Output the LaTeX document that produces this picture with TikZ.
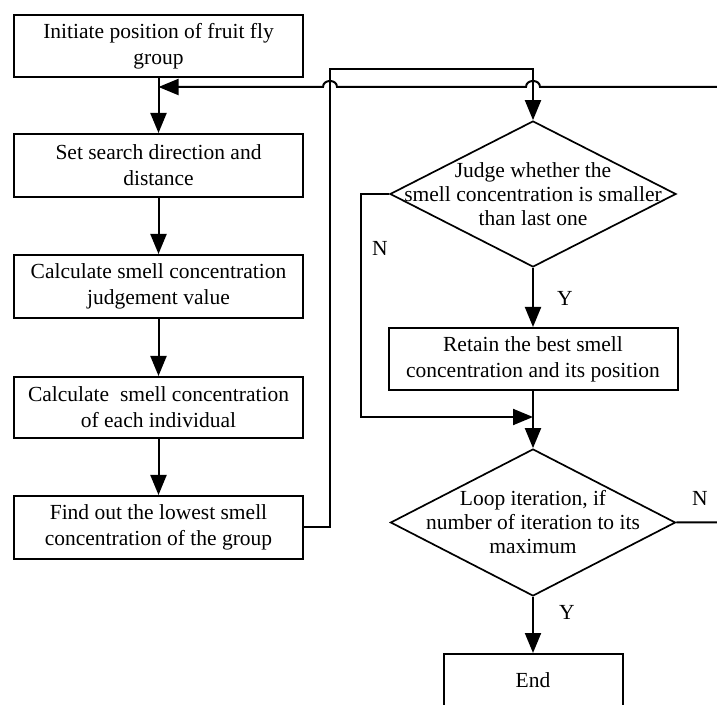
\documentclass[tikz,border=0pt]{standalone}
\usepackage{fontspec}
\setmainfont{Liberation Serif}
\usetikzlibrary{arrows.meta,shapes.geometric}
\begin{document}
\begin{tikzpicture}[x=1pt,y=1pt,
  every node/.style={font=\fontsize{21.5}{26}\selectfont},
  box/.style={draw, line width=2pt, minimum width=289pt, minimum height=62pt, align=center, inner sep=0pt},
  dia/.style={draw, diamond, line width=1.7pt, minimum width=286pt, minimum height=146pt, inner sep=0pt},
  dtext/.style={align=center, inner sep=0pt, font=\fontsize{21.5}{24}\selectfont},
  conn/.style={line width=2pt},
  arr/.style={conn, -{Triangle[length=20pt,width=16pt]}},
  lab/.style={inner sep=0pt}
]
\useasboundingbox (0,0) rectangle (717,704);

% left column
\node[box] (b1) at (158.5,658) {Initiate position of fruit fly\\group};
\node[box, minimum height=63pt] (b2) at (158.5,538.5) {Set search direction and\\distance};
\node[box, minimum height=63pt] (b3) at (158.5,417.5) {Calculate smell concentration\\judgement value};
\node[box, minimum height=61pt] (b4) at (158.5,296.5) {Calculate~ smell concentration\\of each individual};
\node[box, minimum height=63pt] (b5) at (158.5,176.5) {Find out the lowest smell\\concentration of the group};

% right column
\node[dia] (d1) at (533,510) {};
\node[dtext] (t1) at (d1.center) {Judge whether the\\smell concentration is smaller\\than last one};
\node[box] (r) at (533,345) {Retain the best smell\\concentration and its position};
\node[dia, minimum height=147pt, minimum width=285pt] (d2) at (533,181.5) {};
\node[dtext] (t2) at (d2.center) {Loop iteration, if\\number of iteration to its\\maximum};
\node[box, minimum width=179pt, minimum height=52pt, anchor=north] (end) at (533,51) {End};

% labels
\node[lab] (n1) at (380,456) {N};
\node[lab] (y1) at (565,406) {Y};
\node[lab] (n2) at (700,206) {N};
\node[lab] (y2) at (567,92) {Y};

% helper coordinates
\coordinate (j1) at (158.5,617);
\coordinate (j2) at (533,287);
\coordinate (off1) at (720,181.5);
\coordinate (off2) at (720,617);

% connectors left column
\draw[arr] (b1) -- (b2);
\draw[arr] (b2) -- (b3);
\draw[arr] (b3) -- (b4);
\draw[arr] (b4) -- (b5);

% from last left box to first decision
\draw[arr] (b5.east) -| (330,635) -| (d1.north);

% decision 1
\draw[arr] (d1.south) -- (r.north);
\draw[arr] (d1.west) -| (361,287) -- (j2);
\draw[arr] (r.south) -- (d2.north);

% decision 2
\draw[arr] (d2.south) -- (end.north);
\draw[arr] (d2.east) -- (off1) -- (off2) -- (540,617)
  .. controls (540,625) and (526,625) .. (526,617) -- (337,617)
  .. controls (337,625) and (323,625) .. (323,617) -- (j1);
\end{tikzpicture}
\end{document}
